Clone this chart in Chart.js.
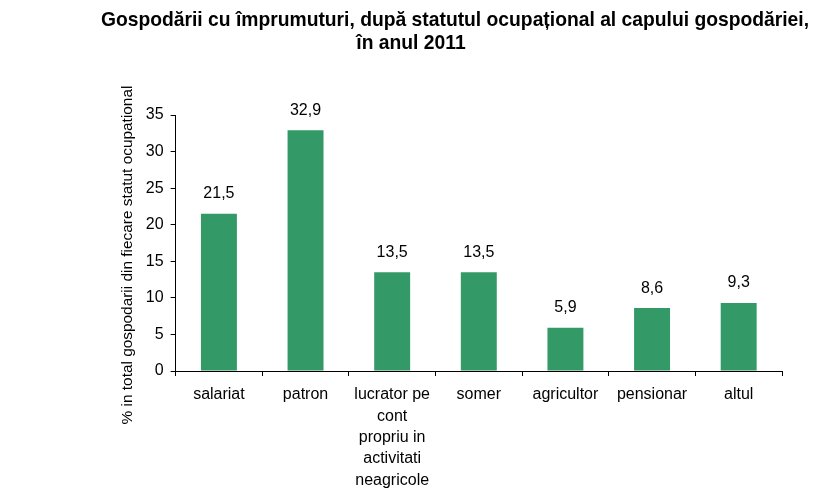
<!DOCTYPE html>
<html>
<head>
<meta charset="utf-8">
<script src="https://cdn.jsdelivr.net/npm/chart.js@4/dist/chart.umd.min.js"></script>
<style>
html,body{margin:0;padding:0;background:#fff;}
#wrap{width:823px;height:498px;position:relative;}
</style>
</head>
<body>
<div id="wrap"><canvas id="c" width="823" height="498"></canvas></div>
<script>
const titleLines = ["Gospodării cu împrumuturi, după statutul ocupațional al capului gospodăriei,", "în anul 2011"];
const yAxisTitle = "% in total gospodarii din fiecare statut ocupational";
const categories = ["salariat", "patron", ["lucrator pe", "cont", "propriu in", "activitati", "neagricole"], "somer", "agricultor", "pensionar", "altul"];
const values = [21.5, 32.9, 13.5, 13.5, 5.9, 8.6, 9.3];
const yTicks = [0, 5, 10, 15, 20, 25, 30, 35];

const FONT = "'Liberation Sans', Arial, sans-serif";

const titlePlugin = {
  id: 'customTitle',
  afterDraw(chart) {
    const ctx = chart.ctx;
    ctx.save();
    ctx.fillStyle = '#000';
    ctx.font = "bold 19.3px " + FONT;
    ctx.textAlign = 'center';
    ctx.textBaseline = 'middle';
    ctx.fillText(titleLines[0], 455, 21);
    ctx.fillText(titleLines[1], 411, 44);
    // y axis title
    ctx.font = "15.4px " + FONT;
    ctx.translate(128, 255);
    ctx.rotate(-Math.PI / 2);
    ctx.fillText(yAxisTitle, 0, 0);
    ctx.restore();
  }
};

const valueLabels = {
  id: 'valueLabels',
  afterDatasetsDraw(chart) {
    const ctx = chart.ctx;
    const meta = chart.getDatasetMeta(0);
    ctx.save();
    ctx.fillStyle = '#000';
    ctx.font = "16px " + FONT;
    ctx.textAlign = 'center';
    ctx.textBaseline = 'middle';
    meta.data.forEach((bar, i) => {
      ctx.fillText(values[i].toFixed(1).replace('.', ','), bar.x, bar.y - 20);
    });
    ctx.restore();
  }
};

new Chart(document.getElementById('c'), {
  type: 'bar',
  data: {
    labels: categories,
    datasets: [{
      data: values,
      backgroundColor: '#339966',
      borderWidth: 0,
      barPercentage: 0.83,
      categoryPercentage: 0.5
    }]
  },
  options: {
    responsive: false,
    animation: false,
    devicePixelRatio: 1,
    layout: { padding: { left: 120, right: 41, top: 115, bottom: 0 } },
    plugins: {
      legend: { display: false },
      title: { display: false },
      tooltip: { enabled: false }
    },
    scales: {
      x: {
        grid: { drawOnChartArea: false, drawTicks: true, tickLength: 5, color: '#000', offset: true },
        border: { display: true, color: '#000', width: 1 },
        ticks: { color: '#000', font: { family: FONT, size: 16, lineHeight: 1.34 }, padding: 8, maxRotation: 0, autoSkip: false },
        afterFit(scale) { scale.height = 127; }
      },
      y: {
        min: 0, max: 35,
        afterBuildTicks(scale) { scale.ticks = yTicks.map(v => ({ value: v })); },
        grid: { drawOnChartArea: false, drawTicks: true, tickLength: 5, color: '#000' },
        border: { display: true, color: '#000', width: 1 },
        ticks: { color: '#000', font: { family: FONT, size: 16 }, padding: 7 },
        title: { display: false },
        afterFit(scale) { scale.width = 55.6; }
      }
    }
  },
  plugins: [titlePlugin, valueLabels]
});
</script>
</body>
</html>
